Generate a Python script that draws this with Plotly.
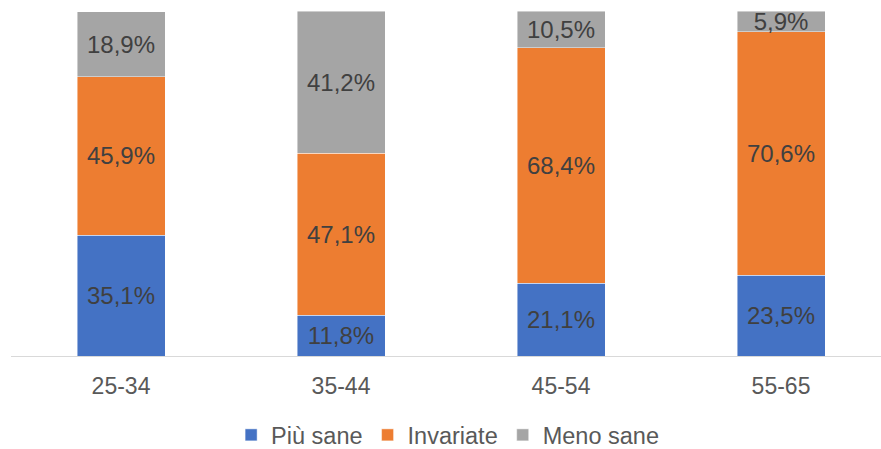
import plotly.graph_objects as go

categories = ["25-34", "35-44", "45-54", "55-65"]
piu_sane = [35.1, 11.8, 21.1, 23.5]
invariate = [45.9, 47.1, 68.4, 70.6]
meno_sane = [18.9, 41.2, 10.5, 5.9]

series = [
    ("Più sane", piu_sane, "#4472C4"),
    ("Invariate", invariate, "#ED7D31"),
    ("Meno sane", meno_sane, "#A5A5A5"),
]

FONT = "Liberation Sans, Arial, sans-serif"

totals = [a + b + c for a, b, c in zip(piu_sane, invariate, meno_sane)]
ymax = max(totals) + 0.02

fig = go.Figure()
for name, vals, color in series:
    fig.add_trace(go.Bar(
        x=categories, y=vals, name=name,
        marker=dict(color=color, line=dict(color="rgba(255,255,255,0.6)", width=0.75)),
        width=0.4,
        texttemplate="%{y:.1f}%",
        textposition="inside",
        insidetextanchor="middle",
        constraintext="none",
        textangle=0,
        textfont=dict(family=FONT, size=24, color="#404040"),
        cliponaxis=False,
    ))

fig.update_layout(
    barmode="stack",
    width=881, height=449,
    margin=dict(l=11, r=0, t=11, b=93, autoexpand=False),
    paper_bgcolor="white", plot_bgcolor="white",
    separators=",.",
    showlegend=True,
    legend=dict(
        orientation="h", x=0.253, xanchor="left", y=-0.293, yanchor="bottom",
        font=dict(family=FONT, size=23.5, color="#595959"),
        traceorder="normal",
        tracegroupgap=0,
    ),
    xaxis=dict(
        type="category", range=[-0.5, 3.4545],
        showline=True, linecolor="#D9D9D9", linewidth=1.3,
        showgrid=False, ticks="", ticklabelstandoff=9,
        tickfont=dict(family=FONT, size=23, color="#595959"),
        fixedrange=True, automargin=False,
    ),
    yaxis=dict(
        range=[0, ymax], visible=False, showgrid=False, zeroline=False,
        fixedrange=True, automargin=False,
    ),
)

fig.write_html("out.html")
